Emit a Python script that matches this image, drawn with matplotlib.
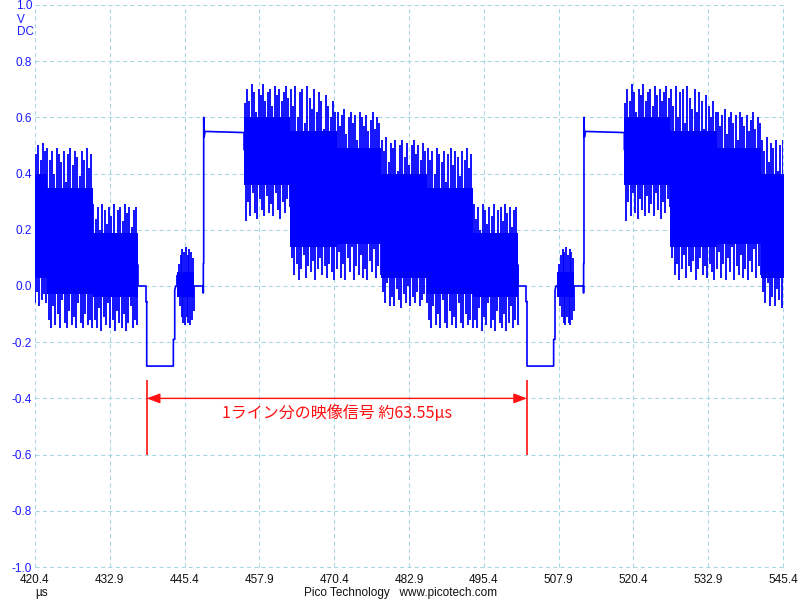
import numpy as np
import matplotlib.pyplot as plt

plt.rcParams['font.family'] = ['Liberation Sans', 'DejaVu Sans']

# time of each sync falling edge seen on screen (us), one video line = 63.55 us
sync_times = [375.52, 439.07, 502.62]

# level of one line without the colour subcarrier (us after sync fall, V)
path_t = [0.00, 0.00, 4.45, 4.45, 4.68, 4.68, 4.85, 9.44, 9.44, 9.46, 9.46, 9.52, 9.52, 9.60, 9.75, 16.26,
          16.26, 23.95, 23.95, 31.80, 31.80, 39.15, 39.15, 46.84, 46.84, 54.53, 54.53, 62.05,
          62.05, 63.38, 63.38, 63.55]
path_v = [-0.056, -0.285, -0.285, -0.19, -0.19, -0.015, 0.0, 0.0, -0.025, -0.025, 0.08, 0.08, 0.60, 0.53, 0.55, 0.546,
          0.485, 0.485, 0.345, 0.345, 0.32, 0.32, 0.215, 0.215, 0.16, 0.16, 0.075, 0.075,
          0.0, 0.0, -0.056, -0.056]

# colour burst
burst_edges = [5.01, 7.90]
burst_core = [0.05, -0.04]
burst_up = [0.04, 0.08, 0.11, 0.13, 0.12, 0.14, 0.11, 0.13, 0.12, 0.10]
burst_lo = [-0.03, -0.07, -0.11, -0.13, -0.14, -0.11, -0.13, -0.14, -0.12, -0.09]

# colour bars: yellow, cyan, green, magenta, red, blue
bar_edges = [16.26, 23.95, 31.80, 39.15, 46.84, 54.53, 62.05]
core_hi = [0.60, 0.55, 0.49, 0.40, 0.35, 0.19]
core_lo = [0.36, 0.14, 0.15, 0.03, -0.03, -0.04]
spike_up = [
    [0.65, 0.70, 0.66, 0.72, 0.69, 0.62, 0.70, 0.68, 0.72, 0.66, 0.69, 0.70, 0.64, 0.71, 0.68, 0.70, 0.66, 0.69, 0.71, 0.67],
    [0.70, 0.64, 0.71, 0.60, 0.69, 0.70, 0.58, 0.71, 0.67, 0.63, 0.70, 0.62, 0.69, 0.66, 0.56, 0.68, 0.64, 0.60, 0.66, 0.62],
    [0.62, 0.57, 0.61, 0.63, 0.54, 0.60, 0.62, 0.58, 0.61, 0.52, 0.62, 0.60, 0.57, 0.61, 0.55, 0.59, 0.62, 0.56, 0.60, 0.58],
    [0.52, 0.48, 0.53, 0.44, 0.51, 0.49, 0.52, 0.41, 0.50, 0.52, 0.46, 0.51, 0.43, 0.50, 0.52, 0.47, 0.50, 0.45, 0.51, 0.48],
    [0.49, 0.45, 0.48, 0.40, 0.49, 0.47, 0.44, 0.48, 0.37, 0.47, 0.49, 0.43, 0.48, 0.46, 0.39, 0.48, 0.45, 0.49, 0.42, 0.47],
    [0.29, 0.24, 0.28, 0.20, 0.29, 0.27, 0.22, 0.28, 0.25, 0.29, 0.18, 0.27, 0.28, 0.23, 0.29, 0.26, 0.28, 0.21, 0.27, 0.28],
]
spike_lo = [
    [0.23, 0.30, 0.25, 0.33, 0.26, 0.24, 0.31, 0.27, 0.25, 0.32, 0.26, 0.29, 0.25, 0.33, 0.27, 0.24, 0.30, 0.26, 0.31, 0.28],
    [0.10, 0.04, 0.08, 0.02, 0.06, 0.11, 0.03, 0.07, 0.05, 0.09, 0.02, 0.06, 0.10, 0.04, 0.07, 0.03, 0.08, 0.05, 0.02, 0.06],
    [0.12, 0.03, 0.08, 0.02, 0.10, 0.05, 0.14, 0.02, 0.07, 0.04, 0.11, 0.03, 0.06, 0.02, 0.09, 0.05, 0.13, 0.03, 0.07, 0.04],
    [-0.02, -0.06, 0.01, -0.07, -0.04, -0.07, -0.01, -0.05, -0.08, -0.03, -0.06, 0.00, -0.07, -0.04, -0.06, -0.02, -0.07, -0.05, -0.03, -0.06],
    [-0.12, -0.15, -0.07, -0.14, -0.10, -0.15, -0.05, -0.13, -0.15, -0.09, -0.14, -0.11, -0.15, -0.06, -0.13, -0.15, -0.10, -0.14, -0.12, -0.15],
    [-0.12, -0.15, -0.08, -0.16, -0.11, -0.14, -0.06, -0.15, -0.12, -0.16, -0.09, -0.13, -0.15, -0.10, -0.16, -0.13, -0.07, -0.15, -0.12, -0.14],
]

x_ticks = [420.4, 432.9, 445.4, 457.9, 470.4, 482.9, 495.4, 507.9, 520.4, 532.9, 545.4]
x_labels = ['420.4', '432.9', '445.4', '457.9', '470.4', '482.9', '495.4', '507.9', '520.4', '532.9', '545.4']
y_ticks = [1.0, 0.8, 0.6, 0.4, 0.2, 0.0, -0.2, -0.4, -0.6, -0.8, -1.0]
y_labels = ['1.0', '0.8', '0.6', '0.4', '0.2', '0.0', '-0.2', '-0.4', '-0.6', '-0.8', '-1.0']

# annotation
marker_lo, marker_hi = -0.60, -0.335
arrow_y = -0.40
label_text = '1ライン分の映像信号 約63.55μs'

trace = '#0000ff'


def draw_chroma(ax, t0, t1, hi, lo, up, down):
    ax.fill_between([t0, t1], [lo, lo], [hi, hi], color=trace, lw=0)
    n = len(up)
    step = (t1 - t0) / n
    tu = np.linspace(t0 + step * 0.3, t1 - step * 0.7, n)
    mid = (hi + lo) / 2
    ax.vlines(tu, mid, up, color=trace, lw=1.3)
    ax.vlines(tu + step * 0.5, down, mid, color=trace, lw=1.3)


fig = plt.figure(figsize=(8, 6), dpi=100)
ax = fig.add_axes([0.04375, 0.055, 0.935, 0.9367])

for s in sync_times:
    ax.plot(s + np.array(path_t), path_v, color=trace, lw=1.2)
    draw_chroma(ax, s + burst_edges[0], s + burst_edges[1], burst_core[0], burst_core[1], burst_up, burst_lo)
    for i in range(len(core_hi)):
        draw_chroma(ax, s + bar_edges[i], s + bar_edges[i + 1], core_hi[i], core_lo[i], spike_up[i], spike_lo[i])

# one line period marker
t_a, t_b = sync_times[1], sync_times[2]
ax.vlines([t_a, t_b], marker_lo, marker_hi, color='#ff1010', lw=1.2)
ax.annotate('', xy=(t_b, arrow_y), xytext=(t_a, arrow_y),
            arrowprops=dict(arrowstyle='<|-|>,head_length=0.8,head_width=0.3', color='#ff1010',
                            lw=1.0, mutation_scale=10, shrinkA=0, shrinkB=0))
ax.text((t_a + t_b) / 2, -0.455, label_text, color='#ff1010', fontsize=11.5,
        ha='center', va='center', family=['Noto Sans CJK JP', 'DejaVu Sans'])

ax.set_xlim(x_ticks[0], x_ticks[-1])
ax.set_ylim(-1.0, 1.0)
ax.set_xticks(x_ticks)
ax.set_xticklabels(x_labels, fontsize=8.5, color='#111111')
ax.set_yticks(y_ticks)
ax.set_yticklabels(y_labels, fontsize=8.5, color='#1a1aff')
ax.tick_params(length=0, pad=2)
ax.tick_params(axis='x', pad=5)
for sp in ax.spines.values():
    sp.set_visible(False)
ax.grid(True, color='#a6d5e4', lw=0.75, linestyle=(0, (4, 3)), clip_on=False)
ax.set_axisbelow(True)

fig.text(0.021, 0.967, 'V', color='#1a1aff', fontsize=8.5, ha='left', va='center')
fig.text(0.021, 0.947, 'DC', color='#1a1aff', fontsize=8.5, ha='left', va='center')
fig.text(0.044, 0.012, 'µs', color='#111111', fontsize=8.5, ha='left', va='center')
fig.text(0.501, 0.012, 'Pico Technology   www.picotech.com', color='#111111', fontsize=8.5,
         ha='center', va='center')

fig.savefig('out.png', dpi=100)
